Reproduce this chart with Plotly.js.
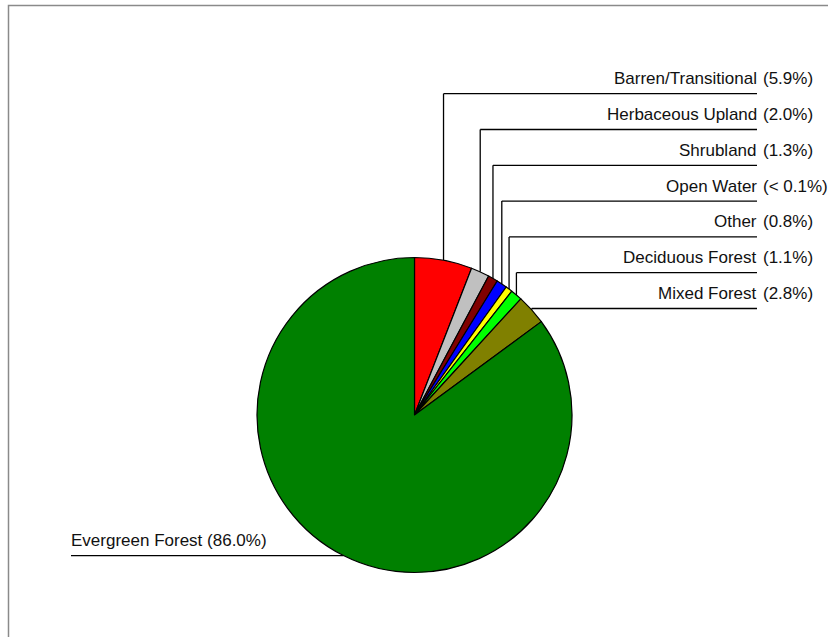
<!DOCTYPE html>
<html>
<head>
<meta charset="utf-8">
<script src="https://cdn.plot.ly/plotly-3.0.1.min.js"></script>
<style>
  html, body { margin: 0; padding: 0; background: #fff; }
  #chart { width: 828px; height: 637px; }
</style>
</head>
<body>
<div id="chart"></div>
<script>
// ---- data ----
const categories = ['Barren/Transitional', 'Herbaceous Upland', 'Shrubland', 'Open Water', 'Other', 'Deciduous Forest', 'Mixed Forest', 'Evergreen Forest'];
const sliceValues = [5.9, 1.9, 1.0, 1.1, 0.7, 1.2, 3.1, 85.1];
const percentLabels = ['(5.9%)', '(2.0%)', '(1.3%)', '(< 0.1%)', '(0.8%)', '(1.1%)', '(2.8%)', '(86.0%)'];
const sliceColors = ['#FF0000', '#C0C0C0', '#800000', '#0000FF', '#FFFF00', '#00FF00', '#808000', '#008000'];

// ---- layout geometry (pixels) ----
const W = 828, H = 637;
const cx = 414.5, cy = 415, R = 157.5;
const px = x => x / W;
const py = y => 1 - y / H;

const total = sliceValues.reduce((a, b) => a + b, 0);
let cum = 0;
const mids = sliceValues.map(v => {
  const m = (cum + v / 2) / total;
  cum += v;
  const ang = m * 2 * Math.PI;
  return { x: cx + R * Math.sin(ang), y: cy - R * Math.cos(ang) };
});

const FONT = { family: '"Liberation Sans", Arial, Helvetica, sans-serif', size: 17, color: '#111' };
const shapes = [];
const annotations = [];
const lineStyle = { color: '#000', width: 1.3 };

// right-hand labels (first seven slices)
const labelTop = 93.7, labelStep = 35.8, lineRight = 757, pctLeft = 763;
for (let i = 0; i < 7; i++) {
  const ly = labelTop + i * labelStep;
  const m = mids[i];
  shapes.push({ type: 'line', xref: 'paper', yref: 'paper', x0: px(m.x), y0: py(m.y), x1: px(m.x), y1: py(ly), line: lineStyle });
  shapes.push({ type: 'line', xref: 'paper', yref: 'paper', x0: px(m.x), y0: py(ly), x1: px(lineRight), y1: py(ly), line: lineStyle });
  annotations.push({ xref: 'paper', yref: 'paper', x: px(lineRight), y: py(ly - 15), xanchor: 'right', yanchor: 'middle',
    text: categories[i], showarrow: false, font: FONT, borderpad: 0, borderwidth: 0 });
  annotations.push({ xref: 'paper', yref: 'paper', x: px(pctLeft), y: py(ly - 15), xanchor: 'left', yanchor: 'middle',
    text: percentLabels[i], showarrow: false, font: FONT, borderpad: 0, borderwidth: 0 });
}
// left label (evergreen)
{
  const m = mids[7];
  shapes.push({ type: 'line', xref: 'paper', yref: 'paper', x0: px(71), y0: py(m.y), x1: px(m.x), y1: py(m.y), line: lineStyle });
  annotations.push({ xref: 'paper', yref: 'paper', x: px(71), y: py(m.y - 15), xanchor: 'left', yanchor: 'middle',
    text: categories[7] + ' ' + percentLabels[7], showarrow: false, font: FONT, borderpad: 0, borderwidth: 0 });
}
// chart frame (only left and top edges visible)
shapes.push({ type: 'rect', xref: 'paper', yref: 'paper', x0: px(8.5), y0: py(H + 10), x1: px(W + 10), y1: py(5.5),
  line: { color: '#8a8a8a', width: 1.5 }, fillcolor: 'rgba(0,0,0,0)', layer: 'below' });

const trace = {
  type: 'pie',
  labels: categories,
  values: sliceValues,
  sort: false,
  direction: 'clockwise',
  rotation: 0,
  textinfo: 'none',
  hoverinfo: 'skip',
  showlegend: false,
  marker: { colors: sliceColors, line: { color: '#000', width: 1.2 } },
  domain: { x: [px(cx - R), px(cx + R)], y: [py(cy + R), py(cy - R)] }
};

const layout = {
  width: W, height: H,
  margin: { l: 0, r: 0, t: 0, b: 0, pad: 0 },
  paper_bgcolor: '#fff',
  plot_bgcolor: '#fff',
  showlegend: false,
  shapes: shapes,
  annotations: annotations,
  font: FONT
};

Plotly.newPlot('chart', [trace], layout, { displayModeBar: false, staticPlot: true });
</script>
</body>
</html>
